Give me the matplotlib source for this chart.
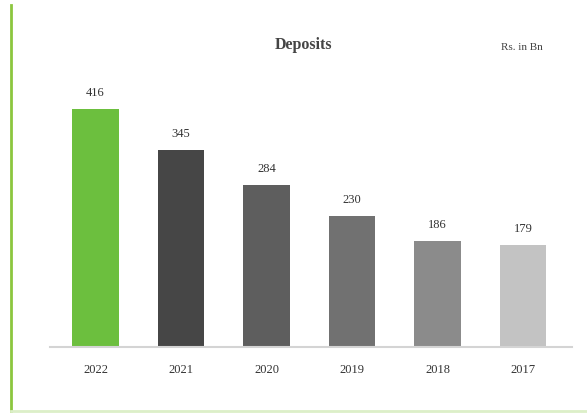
import numpy as np
import matplotlib.pyplot as plt
from matplotlib.lines import Line2D

years = ['2022', '2021', '2020', '2019', '2018', '2017']
deposits = [416, 345, 284, 230, 186, 179]
bar_colors = ['#6cbf3e', '#464646', '#5e5e5e', '#717171', '#8b8b8b', '#c3c3c3']

plt.rcParams['font.family'] = ['Liberation Serif', 'DejaVu Serif']

W, H = 587, 419
fig = plt.figure(figsize=(W / 100, H / 100), dpi=100)
fig.patch.set_facecolor('white')

# axes box in pixel terms: left 50, right 572, baseline at 347, top at 60
ax = fig.add_axes([50 / W, (H - 347) / H, 522 / W, 287 / H])
x = np.arange(len(years))
ax.bar(x, deposits, width=0.54, color=bar_colors, zorder=2)
ax.set_xlim(-0.532, 5.573)
ax.set_ylim(0, 502)

for xi, v in zip(x, deposits):
    ax.text(xi, v + 17, str(v), ha='center', va='bottom', fontsize=9, color='#333333')

ax.set_xticks(x)
ax.set_xticklabels(years, fontsize=9, color='#333333')
ax.tick_params(axis='x', length=0, pad=12)
ax.set_yticks([])
for side in ['top', 'right', 'left']:
    ax.spines[side].set_visible(False)
ax.spines['bottom'].set_color('#d4d4d4')
ax.spines['bottom'].set_linewidth(1.5)

fig.text(303 / W, 1 - 45 / H, 'Deposits', ha='center', va='center',
         fontsize=11.5, fontweight='bold', color='#444444')
fig.text(522 / W, 1 - 47 / H, 'Rs. in Bn', ha='center', va='center',
         fontsize=8, color='#444444')

# green frame on the left and bottom
fig.add_artist(Line2D([10.5 / W, 10.5 / W], [1 - 5 / H, 1 - 411 / H],
                      color='#8cc63f', linewidth=2))
fig.add_artist(Line2D([10.5 / W, 1], [1 - 411 / H, 1 - 411 / H],
                      color='#dcefc8', linewidth=2))

fig.savefig('out.png', dpi=100)
